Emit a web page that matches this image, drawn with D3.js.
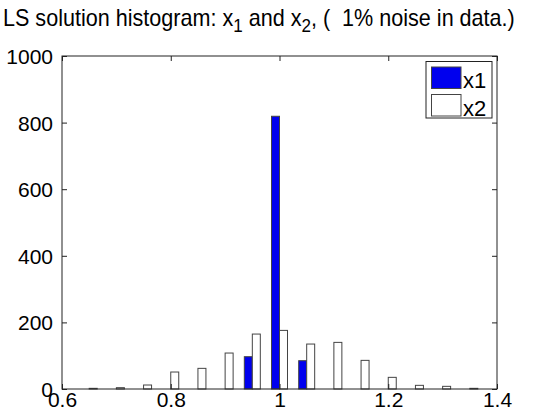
<!DOCTYPE html>
<html>
<head>
<meta charset="utf-8">
<script src="https://cdn.jsdelivr.net/npm/d3@7"></script>
<style>
body{margin:0;background:#fff;}
text{font-family:"Liberation Sans",Arial,Helvetica,sans-serif;fill:#000;}
</style>
</head>
<body>
<svg id="hist"></svg>
<script>
//bin centres of the histogram
var binCenters=[0.65,0.70,0.75,0.80,0.85,0.90,0.95,1.00,1.05,1.10,1.15,1.20,1.25,1.30,1.35]
//counts
var x1Counts=[0,0,0,0,0,0,97,819,85,0,0,0,0,0,0]
var x2Counts=[2,4,12,51,62,108,165,176,135,140,86,35,11,8,2]
var seriesNames=["x1","x2"]
var seriesColors=["#0000ee","#ffffff"]
var xTicks=[0.6,0.8,1,1.2,1.4]
var yTicks=[0,200,400,600,800,1000]

var screen={width:554,height:415}
var margins={left:62,right:57,top:56,bottom:26}
var graph={
    width:screen.width-margins.left-margins.right,
    height:screen.height-margins.top-margins.bottom
}

//bars
var drawBars=function(xScale,yScale){
    var barW=0.0147
    var series=[x1Counts,x2Counts]
    var groups=d3.select("#hist")
        .selectAll("g.series")
        .data(series)
        .enter()
        .append("g")
        .classed("series",true)
        .attr("fill",function(d,i){return seriesColors[i]})
        .attr("stroke","#444")
        .attr("stroke-width",1)
        .attr("transform","translate("+margins.left+","+margins.top+")")
    groups.selectAll("rect")
        .data(function(d,i){
            return d.map(function(v,j){return {c:binCenters[j],v:v,s:i}})
        })
        .enter()
        .filter(function(d){return d.v>0})
        .append("rect")
        .attr("x",function(d){return xScale(d.s==0?d.c-barW:d.c)})
        .attr("width",function(d){return xScale(d.c+barW)-xScale(d.c)})
        .attr("y",function(d){return yScale(d.v)})
        .attr("height",function(d){return yScale(0)-yScale(d.v)})
}

//axes box with ticks on all four sides
var createAxes=function(xScale,yScale){
    var svg=d3.select("#hist")
    var axes=svg.append("g")
        .attr("transform","translate("+margins.left+","+margins.top+")")
    axes.append("rect")
        .attr("x",0).attr("y",0)
        .attr("width",graph.width).attr("height",graph.height)
        .attr("fill","none").attr("stroke","#222").attr("stroke-width",1)

    var bottom=d3.axisBottom(xScale).tickValues(xTicks).tickSizeInner(-5).tickSizeOuter(0).tickPadding(5)
        .tickFormat(function(d){return String(d)})
    var top=d3.axisTop(xScale).tickValues(xTicks).tickSizeInner(-5).tickSizeOuter(0).tickFormat("")
    var left=d3.axisLeft(yScale).tickValues(yTicks).tickSizeInner(-5).tickSizeOuter(0).tickPadding(9)
        .tickFormat(d3.format("d"))
    var right=d3.axisRight(yScale).tickValues(yTicks).tickSizeInner(-5).tickSizeOuter(0).tickFormat("")

    var gb=axes.append("g").attr("transform","translate(0,"+graph.height+")").call(bottom)
    var gt=axes.append("g").call(top)
    var gl=axes.append("g").call(left)
    var gr=axes.append("g").attr("transform","translate("+graph.width+",0)").call(right)
    ;[gb,gt,gl,gr].forEach(function(g){
        g.attr("font-size",21).attr("font-family",null)
        g.select(".domain").remove()
        g.selectAll("line").attr("stroke","#222")
        g.selectAll("text").attr("font-size",21).attr("fill","#000")
    })
    gb.selectAll("text").attr("dy","0.62em")
    gl.selectAll("text").attr("dy","0.36em")
}

//legend
var createLegend=function(){
    var leg=d3.select("#hist").append("g").attr("transform","translate(426,61.5)")
    leg.append("rect")
        .attr("width",66).attr("height",56.5)
        .attr("fill","#fff").attr("stroke","#222").attr("stroke-width",1)
    var items=leg.selectAll("g.item")
        .data(seriesNames)
        .enter()
        .append("g")
        .attr("transform",function(d,i){return "translate(5.5,"+(5.5+i*27.5)+")"})
    items.append("rect")
        .attr("width",29.5).attr("height",21.5)
        .attr("fill",function(d,i){return seriesColors[i]})
        .attr("stroke","#444")
    items.append("text")
        .text(function(d){return d})
        .attr("x",31.5).attr("y",21)
        .attr("font-size",22)
}

//title with subscripts
var createTitle=function(){
    var t=d3.select("#hist").append("text")
        .attr("x",3).attr("y",26.5)
        .attr("font-size",24)
        .style("white-space","pre")
    var parts=[
        {s:"LS solution histogram: x",sub:false},
        {s:"1",sub:true},
        {s:" and x",sub:false},
        {s:"2",sub:true},
        {s:", (  1% noise in data.)",sub:false}
    ]
    parts.forEach(function(p,i){
        t.append("tspan")
            .text(p.s)
            .attr("font-size",p.sub?19:24)
            .attr("dy",p.sub?5.5:(i==0?0:-5.5))
    })
    var w=t.node().getComputedTextLength()
    var k=512/w
    t.attr("transform","translate(3,0) scale("+k+",1) translate(-3,0)")
}

var initGraph=function(){
    d3.select("#hist")
        .attr("width",screen.width)
        .attr("height",screen.height)
    var xScale=d3.scaleLinear()
        .domain([0.6,1.4])
        .range([0,graph.width])
    var yScale=d3.scaleLinear()
        .domain([0,1000])
        .range([graph.height,0])
    drawBars(xScale,yScale)
    createAxes(xScale,yScale)
    createLegend()
    createTitle()
}
initGraph()
</script>
</body>
</html>
